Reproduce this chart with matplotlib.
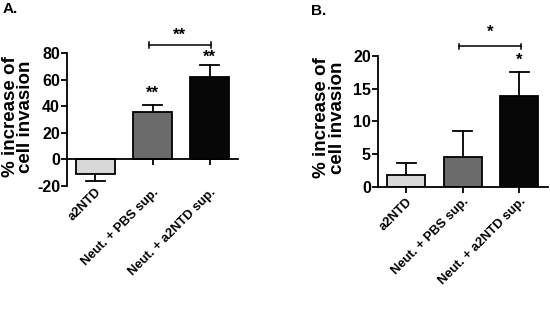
import matplotlib
matplotlib.use("Agg")
import matplotlib.pyplot as plt
import matplotlib.transforms as mtransforms

plt.rcParams['font.family'] = ['Liberation Sans', 'DejaVu Sans']

categories = ["a2NTD", "Neut. + PBS sup.", "Neut. + a2NTD sup."]
values_a = [-11.3, 35.5, 62.0]
errors_a = [5.3, 5.3, 9.0]
values_b = [1.8, 4.6, 13.9]
errors_b = [1.9, 3.9, 3.7]
colors = ["#d8d8d8", "#6b6b6b", "#070707"]
yticks_a = [-20, 0, 20, 40, 60, 80]
yticks_b = [0, 5, 10, 15, 20]

fig = plt.figure(figsize=(5.5, 3.12), dpi=100)

def panel(rect, vals, errs, ylim, yticks, bar_sig, bracket_sig, bar_sig_y, bracket_y, bracket_text_y,
          letter, letter_pos, lab_off, ylab_xy):
    ax = fig.add_axes(rect)
    x = list(range(len(vals)))
    ax.bar(x, vals, width=0.67, color=colors, edgecolor="black", linewidth=1.3, zorder=2)
    for xi, v, e in zip(x, vals, errs):
        sign = 1 if v >= 0 else -1
        ax.plot([xi, xi], [v, v + sign * e], color="black", lw=1.3, zorder=1)
        ax.plot([xi - 0.17, xi + 0.17], [v + sign * e] * 2, color="black", lw=1.3, zorder=1)
    ax.set_xlim(-0.5, 2.5)
    ax.set_ylim(*ylim)
    ax.set_yticks(yticks)
    ax.set_yticklabels([str(t) for t in yticks], fontsize=11.5, fontweight="bold")
    ax.spines['top'].set_visible(False)
    ax.spines['right'].set_visible(False)
    ax.spines['bottom'].set_position(('data', 0))
    ax.spines['left'].set_linewidth(1.3)
    ax.spines['bottom'].set_linewidth(1.3)
    ax.tick_params(axis='y', length=4, width=1.3, pad=1)
    ax.tick_params(axis='x', length=4, width=1.3, direction='out')
    ax.set_xticks(x)
    ax.set_xticklabels([])
    trans = mtransforms.blended_transform_factory(ax.transData, ax.transAxes)
    for xi, lab in zip(x, categories):
        ax.annotate(lab, xy=(xi, 0), xycoords=trans, xytext=lab_off, textcoords='offset pixels',
                    rotation=45, ha='right', va='center', rotation_mode='anchor',
                    fontsize=9.3, fontweight='bold', annotation_clip=False)
    ax.set_ylabel("% increase of\ncell invasion", fontsize=13.5, fontweight="bold", linespacing=0.92)
    ax.yaxis.set_label_coords(*ylab_xy)
    for xi, s in bar_sig:
        ax.text(xi, bar_sig_y[xi], s, ha='center', va='center', fontsize=12, fontweight='bold')
    x0, x1 = 0.93, 2.03
    h = (ylim[1] - ylim[0]) * 0.02
    ax.plot([x0, x1], [bracket_y, bracket_y], color='black', lw=1.1, clip_on=False)
    ax.plot([x0, x0], [bracket_y - h, bracket_y + h], color='black', lw=1.1, clip_on=False)
    ax.plot([x1, x1], [bracket_y - h, bracket_y + h], color='black', lw=1.1, clip_on=False)
    ax.text((x0 + x1) / 2, bracket_text_y, bracket_sig, ha='center', va='center', fontsize=12,
            fontweight='bold', clip_on=False)
    fig.text(letter_pos[0], letter_pos[1], letter, fontsize=11, fontweight='bold', ha='left', va='center')
    return ax

axA = panel([0.1218, 0.4054, 0.311, 0.4247], values_a, errors_a, (-20, 80), yticks_a,
            [(1, "**"), (2, "**")], "**", {1: 49.5, 2: 77}, 86, 93.5, "A.", (0.005, 0.972),
            (4, -5), (-0.19, 0.52))
axB = panel([0.687, 0.4006, 0.309, 0.42], values_b, errors_b, (0, 20), yticks_b,
            [(2, "*")], "*", {2: 19.3}, 21.5, 23.6, "B.", (0.566, 0.965),
            (4, -13), (-0.185, 0.53))

fig.savefig("out.png", dpi=100, facecolor="white")
